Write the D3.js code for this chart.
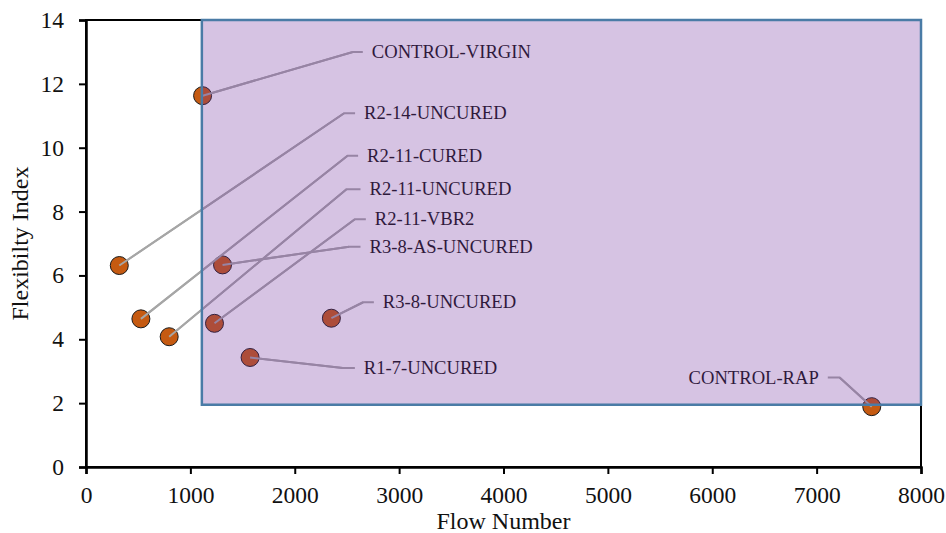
<!DOCTYPE html>
<html>
<head>
<meta charset="utf-8">
<script src="https://cdn.jsdelivr.net/npm/d3@7"></script>
<style>
  html, body { margin: 0; padding: 0; background: #fff; }
  svg { display: block; }
  text { font-family: "Liberation Serif", "Times New Roman", serif; fill: #111; }
</style>
</head>
<body>
<svg id="chart" width="946" height="533"></svg>
<script>
// ---- data ----
const names = ["CONTROL-VIRGIN","R2-14-UNCURED","R2-11-CURED","R2-11-UNCURED","R2-11-VBR2","R3-8-AS-UNCURED","R3-8-UNCURED","R1-7-UNCURED","CONTROL-RAP"];
const flowNumber = [1117, 319, 526, 797, 1231, 1308, 2351, 1572, 7528];
const flexIndex  = [11.63, 6.31, 4.64, 4.08, 4.50, 6.33, 4.66, 3.43, 1.89];
// label anchors in data units: knee x, end x, y
const labelKneeX = [2556, 2473, 2506, 2496, 2576, 2521, 2655, 2461, 7220];
const labelEndX  = [2652, 2578, 2607, 2630, 2681, 2630, 2758, 2576, 7107];
const labelY     = [13.0, 11.08, 9.75, 8.70, 7.76, 6.90, 5.16, 3.10, 2.80];
const xTicks = [0,1000,2000,3000,4000,5000,6000,7000,8000];
const yTicks = [0,2,4,6,8,10,12,14];
const region = { x0: 1110, x1: 8000, y0: 1.95, y1: 14 };

// ---- layout ----
const svg = d3.select("#chart");
const x = d3.scaleLinear().domain([0, 8000]).range([86, 921]);
const y = d3.scaleLinear().domain([0, 14]).range([467, 20]);

// frame
svg.append("rect")
  .attr("x", x(0)).attr("y", y(14))
  .attr("width", x(8000) - x(0)).attr("height", y(0) - y(14))
  .attr("fill", "none").attr("stroke", "#000").attr("stroke-width", 2);

// axes
const xAxis = svg.append("g").attr("transform", `translate(0,${y(0)})`)
  .call(d3.axisBottom(x).tickValues(xTicks).tickSize(7).tickPadding(12).tickFormat(d3.format("d")));
const yAxis = svg.append("g").attr("transform", `translate(${x(0)},0)`)
  .call(d3.axisLeft(y).tickValues(yTicks).tickSize(7).tickPadding(15).tickFormat(d3.format("d")));
[xAxis, yAxis].forEach(g => {
  g.select(".domain").attr("stroke", "#000").attr("stroke-width", 2.5);
  g.selectAll(".tick line").attr("stroke", "#000").attr("stroke-width", 2);
  g.selectAll(".tick text").attr("font-size", 23.5).attr("font-family", "Liberation Serif").attr("fill", "#111");
});

// axis titles
svg.append("text").attr("x", (x(0) + x(8000)) / 2).attr("y", 529)
  .attr("text-anchor", "middle").attr("font-size", 24).text("Flow Number");
svg.append("text").attr("transform", `translate(28,${(y(0)+y(14))/2}) rotate(-90)`)
  .attr("text-anchor", "middle").attr("font-size", 24).text("Flexibilty Index");

// leader lines
const idx = d3.range(names.length);
svg.append("g").selectAll("polyline").data(idx).join("polyline")
  .attr("points", i => [
      [x(flowNumber[i]), y(flexIndex[i])],
      [x(labelKneeX[i]), y(labelY[i])],
      [x(labelEndX[i]), y(labelY[i])]
    ].map(p => p.join(",")).join(" "))
  .attr("fill", "none").attr("stroke", "#a6a6a6").attr("stroke-width", 2);

// points
svg.append("g").selectAll("circle").data(idx).join("circle")
  .attr("cx", i => x(flowNumber[i])).attr("cy", i => y(flexIndex[i]))
  .attr("r", 9).attr("fill", "#c55a11").attr("stroke", "#1a1a1a").attr("stroke-width", 1);

// leader start segments over points
svg.append("g").selectAll("line").data(idx).join("line")
  .attr("x1", i => x(flowNumber[i])).attr("y1", i => y(flexIndex[i]))
  .attr("x2", i => x(labelKneeX[i])).attr("y2", i => y(labelY[i]))
  .attr("stroke", "#a6a6a6").attr("stroke-width", 2);

// labels
svg.append("g").selectAll("text").data(idx).join("text")
  .attr("x", i => {
    const dir = labelEndX[i] >= labelKneeX[i] ? 1 : -1;
    return x(labelEndX[i]) + dir * 9;
  })
  .attr("y", i => y(labelY[i]))
  .attr("dy", "0.33em")
  .attr("text-anchor", i => labelEndX[i] >= labelKneeX[i] ? "start" : "end")
  .attr("font-size", 18.6)
  .text(i => names[i]);

// translucent highlight region on top
svg.append("rect")
  .attr("x", x(region.x0)).attr("y", y(region.y1))
  .attr("width", x(region.x1) - x(region.x0)).attr("height", y(region.y0) - y(region.y1))
  .attr("fill", "#7030a0").attr("fill-opacity", 0.29)
  .attr("stroke", "#4a7ba6").attr("stroke-width", 2.5);
</script>
</body>
</html>
